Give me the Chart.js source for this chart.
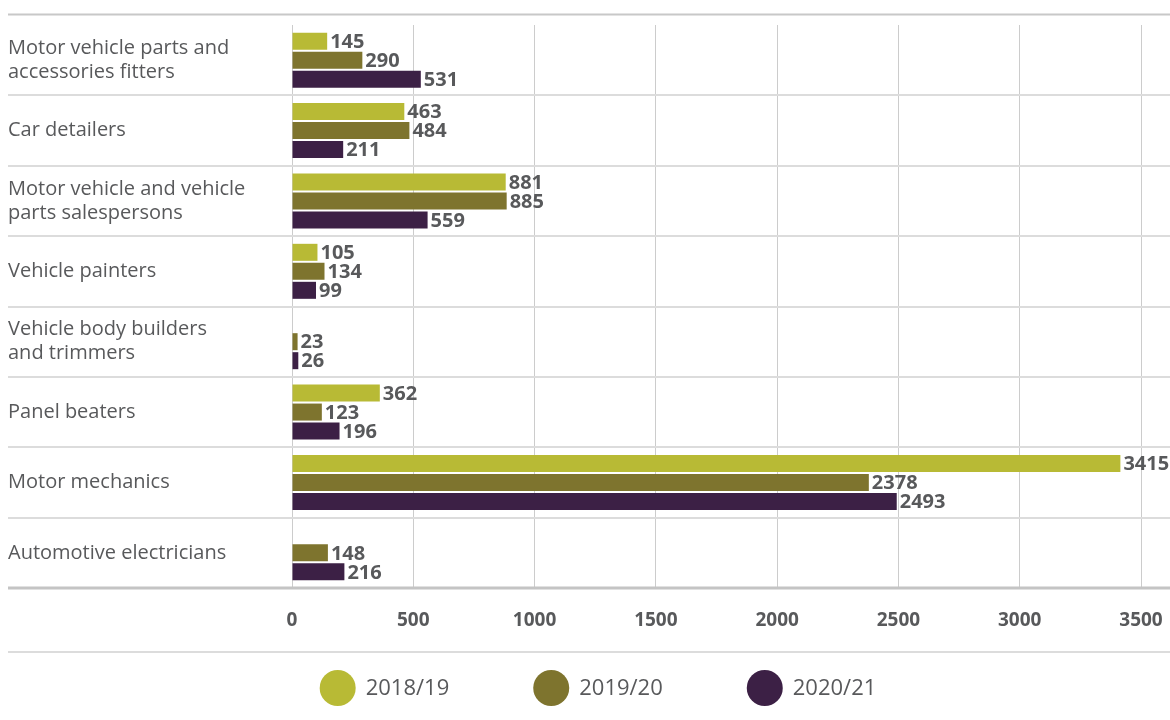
<!DOCTYPE html>
<html>
<head>
<meta charset="utf-8">
<script src="https://cdn.jsdelivr.net/npm/chart.js@4/dist/chart.umd.min.js"></script>
<style>
    html, body { margin: 0; padding: 0; background: #fff; }
    #wrap { width: 1170px; height: 720px; }
</style>
</head>
<body>
<div id="wrap"><canvas id="tradesChart" width="1170" height="720"></canvas></div>
<script>
// Chart data
const categories = [
    ['Motor vehicle parts and', 'accessories fitters'],
    'Car detailers',
    ['Motor vehicle and vehicle', 'parts salespersons'],
    'Vehicle painters',
    ['Vehicle body builders', 'and trimmers'],
    'Panel beaters',
    'Motor mechanics',
    'Automotive electricians'
];
const seriesNames = ['2018/19', '2019/20', '2020/21'];
const values1819 = [145, 463, 881, 105, null, 362, 3415, null];
const values1920 = [290, 484, 885, 134, 23, 123, 2378, 148];
const values2021 = [531, 211, 559, 99, 26, 196, 2493, 216];
const xTicks = [0, 500, 1000, 1500, 2000, 2500, 3000, 3500];

const colors = ['#b8ba35', '#7e742e', '#3c2045'];
const textGrey = '#58595b';
const fontFamily = "'Open Sans', 'Lato', sans-serif";

// Lines between categories, top rule, bottom axis rule and legend rule
const framePlugin = {
    id: 'frame',
    beforeDatasetsDraw(chart) {
        const ctx = chart.ctx;
        const area = chart.chartArea;
        const yScale = chart.scales.y;
        ctx.save();
        ctx.strokeStyle = '#dcdcdc';
        ctx.lineWidth = 2;
        for (let i = 0; i < categories.length - 1; i++) {
            const y = Math.round((yScale.getPixelForTick(i) + yScale.getPixelForTick(i + 1)) / 2);
            ctx.beginPath();
            ctx.moveTo(8, y);
            ctx.lineTo(chart.width, y);
            ctx.stroke();
        }
        // top rule
        ctx.strokeStyle = '#c8c8c8';
        ctx.beginPath();
        ctx.moveTo(8, 14.5);
        ctx.lineTo(chart.width, 14.5);
        ctx.stroke();
        // bottom axis rule
        ctx.strokeStyle = '#c4c4c4';
        ctx.lineWidth = 3;
        ctx.beginPath();
        ctx.moveTo(8, area.bottom);
        ctx.lineTo(chart.width, area.bottom);
        ctx.stroke();
        // rule above legend
        ctx.strokeStyle = '#dcdcdc';
        ctx.lineWidth = 2;
        ctx.beginPath();
        ctx.moveTo(8, 652);
        ctx.lineTo(chart.width, 652);
        ctx.stroke();
        ctx.restore();
    }
};

// Value labels at the end of each bar
const barLabelPlugin = {
    id: 'barLabels',
    afterDatasetsDraw(chart) {
        const ctx = chart.ctx;
        ctx.save();
        ctx.font = `bold 20px ${fontFamily}`;
        ctx.fillStyle = textGrey;
        ctx.textAlign = 'left';
        ctx.textBaseline = 'middle';
        chart.data.datasets.forEach((ds, di) => {
            chart.getDatasetMeta(di).data.forEach((bar, i) => {
                const v = ds.data[i];
                if (v === null || v === undefined) return;
                ctx.fillText(String(v), bar.x + 3, bar.y + 1);
            });
        });
        ctx.restore();
    }
};

// Legend with big round swatches
const legendPlugin = {
    id: 'bigLegend',
    afterDraw(chart) {
        const ctx = chart.ctx;
        const r = 18;
        const gap = 10;
        const spacing = 84;
        const cy = 688;
        ctx.save();
        ctx.font = `22px ${fontFamily}`;
        const widths = seriesNames.map(n => ctx.measureText(n).width);
        const total = widths.reduce((s, w) => s + 2 * r + gap + w, 0) + spacing * (seriesNames.length - 1);
        let x = 598 - total / 2;
        seriesNames.forEach((name, i) => {
            ctx.fillStyle = colors[i];
            ctx.beginPath();
            ctx.arc(x + r, cy, r, 0, Math.PI * 2);
            ctx.fill();
            ctx.fillStyle = textGrey;
            ctx.textAlign = 'left';
            ctx.textBaseline = 'middle';
            ctx.fillText(name, x + 2 * r + gap, cy + 1);
            x += 2 * r + gap + widths[i] + spacing;
        });
        ctx.restore();
    }
};

const data = {
    labels: categories,
    datasets: [
        { label: seriesNames[0], data: values1819, backgroundColor: colors[0] },
        { label: seriesNames[1], data: values1920, backgroundColor: colors[1] },
        { label: seriesNames[2], data: values2021, backgroundColor: colors[2] }
    ]
};

const config = {
    type: 'bar',
    data: data,
    options: {
        indexAxis: 'y',
        responsive: false,
        maintainAspectRatio: false,
        animation: false,
        categoryPercentage: 0.81,
        barPercentage: 0.895,
        layout: {
            padding: { top: 25, left: 8, right: 29, bottom: 0 }
        },
        plugins: {
            legend: { display: false },
            tooltip: { enabled: false }
        },
        scales: {
            x: {
                type: 'linear',
                min: 0,
                max: 3500,
                afterBuildTicks: (scale) => {
                    scale.ticks = xTicks.map(v => ({ value: v }));
                },
                afterFit: (scale) => {
                    scale.height = 132;
                    scale.paddingLeft = 0;
                    scale.paddingRight = 0;
                },
                grid: { color: '#cccccc', lineWidth: 1, drawTicks: false },
                border: { display: false },
                ticks: {
                    padding: 21,
                    color: textGrey,
                    font: { family: fontFamily, size: 19, weight: 'bold' },
                    callback: (v) => String(v)
                }
            },
            y: {
                afterFit: (scale) => { scale.width = 284; },
                grid: { display: false },
                border: { display: false },
                ticks: {
                    crossAlign: 'far',
                    padding: 0,
                    color: textGrey,
                    font: { family: fontFamily, size: 20, lineHeight: 1.2 }
                }
            }
        }
    },
    plugins: [framePlugin, barLabelPlugin, legendPlugin]
};

const ctx = document.getElementById('tradesChart').getContext('2d');
window.tradesChart = new Chart(ctx, config);
</script>
</body>
</html>
